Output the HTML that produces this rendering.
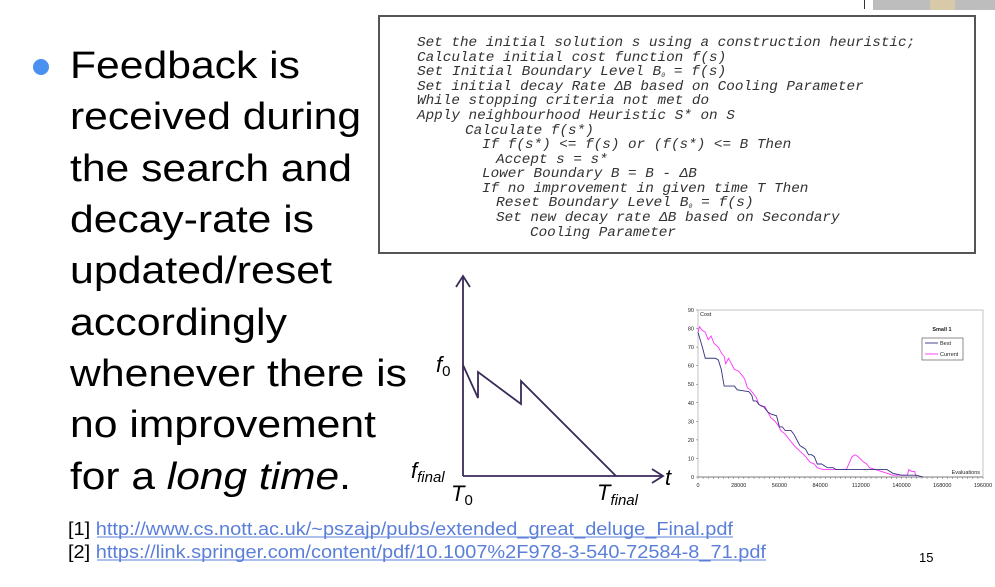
<!DOCTYPE html>
<html><head><meta charset="utf-8"><style>
html,body{margin:0;padding:0;background:#fff;}
svg{display:block;font-family:"Liberation Sans",sans-serif;}
.code{font-family:"Liberation Mono",monospace;font-style:italic;font-size:13.5px;fill:#333;}
.big{font-size:38px;fill:#000;}
.tk{font-size:5.5px;fill:#222;}
</style></head><body>
<svg width="995" height="587" viewBox="0 0 995 587">
<line x1="864.5" y1="0" x2="864.5" y2="9" stroke="#333" stroke-width="1"/>
<rect x="873" y="0" width="122" height="10" fill="#bdbdbd"/>
<rect x="930" y="0" width="25" height="10" fill="#d8c9a8"/>
<circle cx="41" cy="67" r="8" fill="#4a90f0"/>
<g class="big">
<text x="70" y="78" textLength="230" lengthAdjust="spacingAndGlyphs">Feedback is</text>
<text x="70" y="129" textLength="291" lengthAdjust="spacingAndGlyphs">received during</text>
<text x="70" y="181" textLength="282" lengthAdjust="spacingAndGlyphs">the search and</text>
<text x="70" y="232" textLength="244" lengthAdjust="spacingAndGlyphs">decay-rate is</text>
<text x="70" y="283" textLength="262" lengthAdjust="spacingAndGlyphs">updated/reset</text>
<text x="70" y="335" textLength="217" lengthAdjust="spacingAndGlyphs">accordingly</text>
<text x="70" y="386" textLength="337" lengthAdjust="spacingAndGlyphs">whenever there is</text>
<text x="70" y="437" textLength="306" lengthAdjust="spacingAndGlyphs">no improvement</text>
<text x="70" y="489" textLength="281" lengthAdjust="spacingAndGlyphs">for a <tspan font-style="italic">long time</tspan>.</text>
</g>
<g>
<rect x="379" y="16" width="596" height="237" fill="#fff" stroke="#555" stroke-width="2"/>
<g class="code">
<text x="417" y="46">Set the initial solution s using a construction heuristic;</text>
<text x="417" y="61">Calculate initial cost function f(s)</text>
<text x="417" y="75">Set Initial Boundary Level B<tspan font-size="6" dy="2">0</tspan><tspan dy="-2"> = f(s)</tspan></text>
<text x="417" y="90">Set initial decay Rate ΔB based on Cooling Parameter</text>
<text x="417" y="104">While stopping criteria not met do</text>
<text x="417" y="119">Apply neighbourhood Heuristic S* on S</text>
<text x="465" y="134">Calculate f(s*)</text>
<text x="482" y="148">If f(s*) &lt;= f(s) or (f(s*) &lt;= B Then</text>
<text x="496" y="163">Accept s = s*</text>
<text x="482" y="177">Lower Boundary B = B - ΔB</text>
<text x="482" y="192">If no improvement in given time T Then</text>
<text x="496" y="206">Reset Boundary Level B<tspan font-size="6" dy="2">0</tspan><tspan dy="-2"> = f(s)</tspan></text>
<text x="496" y="221">Set new decay rate ΔB based on Secondary</text>
<text x="530" y="236">Cooling Parameter</text>
</g></g>
<g stroke="#3a2a5a" stroke-width="1.8" fill="none">
<line x1="463" y1="476" x2="463" y2="276"/>
<polyline points="456,287 463,276 470,287"/>
<line x1="463" y1="476" x2="662" y2="476"/>
<polyline points="652,469 663,476 652,483"/>
<polyline points="463,365 478,398 478,372 521,404 521,381 616,476"/>
</g>
<g font-style="italic" font-size="22" fill="#000">
<text x="436" y="372">f<tspan font-size="15" dy="4" font-style="normal">0</tspan></text>
<text x="411" y="478">f<tspan font-size="15" dy="4">final</tspan></text>
<text x="451" y="501">T<tspan font-size="15" dy="4" font-style="normal">0</tspan></text>
<text x="597" y="500">T<tspan font-size="15" dy="5">final</tspan></text>
<text x="665" y="485">t</text>
</g>
<g id="chart"></g>
<g font-size="18">
<text x="68" y="535" fill="#000" textLength="665" lengthAdjust="spacingAndGlyphs">[1] <tspan fill="#5b7fd9">http://www.cs.nott.ac.uk/~pszajp/pubs/extended_great_deluge_Final.pdf</tspan></text>
<text x="68" y="558" fill="#000" textLength="698" lengthAdjust="spacingAndGlyphs">[2] <tspan fill="#5b7fd9">https://link.springer.com/content/pdf/10.1007%2F978-3-540-72584-8_71.pdf</tspan></text>
</g>
<line x1="97" y1="537" x2="733" y2="537" stroke="#5b7fd9" stroke-width="1"/>
<line x1="97" y1="560" x2="766" y2="560" stroke="#5b7fd9" stroke-width="1"/>
<text x="919" y="562" font-size="13" fill="#000">15</text>
</svg>
<script>
const xTicks=[0,28000,56000,84000,112000,140000,168000,196000];
const yTicks=[0,10,20,30,40,50,60,70,80,90];
const bestX=[0,3,5,12,14,16,18,25,27,35,37,38,40,42,45,48,50,54,56,58,60,64,66,68,70,72,74,76,78,80,82,85,87,89,93,95,100,130,134,140,150,155];
const bestY=[78,70,64,64,63,58,49,49,47,46,44,41,41,39,38,35,34,33,27,27,25,25,23,20,17,16,15,12,12,11,7,7,6,5,5,4,4,4,2,1,1,0];
const curX=[0,1,3,5,7,9,11,14,16,18,19,21,23,25,28,30,32,34,36,38,40,42,44,46,48,50,53,55,57,60,63,66,70,74,77,80,82,86,100,102,106,108,110,114,116,118,122,126,130,134,144,145,147,149,150];
const curY=[78,81,79,78,74,76,72,70,67,65,61,64,61,58,57,55,53,48,47,45,43,39,38,38,35,32,30,28,25,23,20,17,14,11,8,7,5,4,4,4,11,12,11,8,7,5,4,3,2,1,1,4,3,3,0];
document.querySelectorAll('.code text').forEach(el=>{
 el.setAttribute('textLength',(el.textContent.length*8.59).toFixed(1));
 el.setAttribute('lengthAdjust','spacingAndGlyphs');
});
const NS='http://www.w3.org/2000/svg';
const g=document.getElementById('chart');
const X0=698,X1=983,Y0=477,Y1=310;
const sx=v=>X0+(v/196000)*(X1-X0);
const sy=v=>Y0-(v/90)*(Y0-Y1);
function mk(t,a){const e=document.createElementNS(NS,t);for(const k in a)e.setAttribute(k,a[k]);g.appendChild(e);return e;}
const frame=mk('rect',{x:X0,y:Y1,width:X1-X0,height:Y0-Y1,fill:'none',stroke:'#aaa','stroke-width':0.7});


const ax=mk('line',{x1:X0,y1:Y0,x2:X1,y2:Y0,stroke:'#666','stroke-width':0.8});


for(let v=0;v<=196000;v+=3500){mk('line',{x1:sx(v),y1:Y0,x2:sx(v),y2:Y0+2,stroke:'#666','stroke-width':0.5});}
yTicks.forEach(v=>{
 const t=mk('text',{x:X0-4,y:sy(v)+2,'text-anchor':'end',class:'tk'});t.textContent=v;
 
 
 mk('line',{x1:X0-2,y1:sy(v),x2:X0,y2:sy(v),stroke:'#666','stroke-width':0.5});
});
xTicks.forEach(v=>{
 const t=mk('text',{x:sx(v),y:Y0+10,'text-anchor':'middle',class:'tk'});t.textContent=v;
 
 
});
function line(xs,ys,c,name){
 const p=mk('polyline',{points:xs.map((x,i)=>sx(x*1000)+','+sy(ys[i])).join(' '),fill:'none',stroke:c,'stroke-width':0.9});
 
 
}
line(curX,curY,'#ff33ff','current-series');
line(bestX,bestY,'#33337f','best-series');
let t=mk('text',{x:X0+2,y:Y1+6,class:'tk'});t.textContent='Cost';


t=mk('text',{x:X1-3,y:Y0-3,'text-anchor':'end',class:'tk'});t.textContent='Evaluations';


t=mk('text',{x:942,y:331,'text-anchor':'middle',class:'tk','font-weight':'bold'});t.textContent='Small 1';


const lb=mk('rect',{x:922,y:338,width:41,height:22,fill:'#fff',stroke:'#444','stroke-width':0.6});


mk('line',{x1:925,y1:343,x2:938,y2:343,stroke:'#33337f','stroke-width':0.9});
t=mk('text',{x:940,y:345,class:'tk'});t.textContent='Best';


mk('line',{x1:925,y1:354,x2:938,y2:354,stroke:'#ff33ff','stroke-width':0.9});
t=mk('text',{x:940,y:356,class:'tk'});t.textContent='Current';


</script>
</body></html>
